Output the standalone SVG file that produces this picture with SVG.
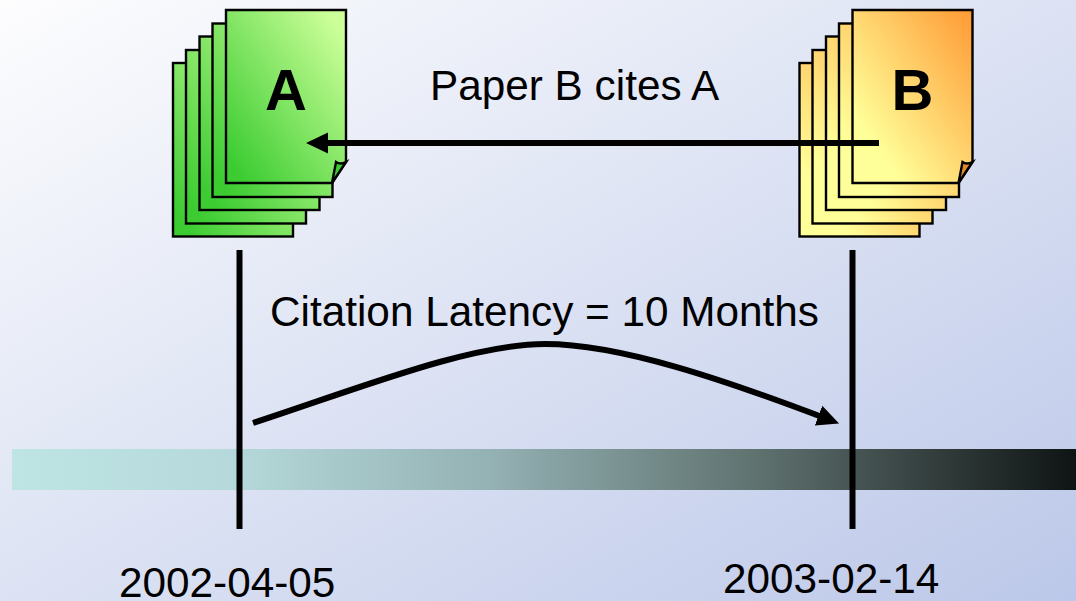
<svg xmlns="http://www.w3.org/2000/svg" width="1076" height="601" viewBox="0 0 1076 601">
<defs>
<linearGradient id="bg" x1="0" y1="0" x2="1" y2="1"><stop offset="0" stop-color="#fdfdfe"/><stop offset="1" stop-color="#bcc8e9"/></linearGradient>
<linearGradient id="bar" x1="0" y1="0" x2="1" y2="0"><stop offset="0" stop-color="#bfe4e4"/><stop offset="0.2" stop-color="#b6dadb"/><stop offset="0.45" stop-color="#94b1b3"/><stop offset="0.7" stop-color="#5f7270"/><stop offset="1" stop-color="#0f1414"/></linearGradient>
<linearGradient id="ga" x1="0" y1="1" x2="1" y2="0"><stop offset="0.08" stop-color="#3ccc32"/><stop offset="0.92" stop-color="#ccff99"/></linearGradient>
<linearGradient id="gb" x1="0" y1="1" x2="1" y2="0"><stop offset="0.2" stop-color="#ffff99"/><stop offset="1" stop-color="#ff9933"/></linearGradient>
<marker id="head" markerUnits="userSpaceOnUse" markerWidth="24" markerHeight="24" refX="8" refY="12" orient="auto"><path d="M0 1.500 L22 12 L0 22.500 Z" fill="#000"/></marker>
</defs>
<style>
.t{font-family:"Liberation Sans",Arial,sans-serif;font-size:42.3px;fill:#000}
.h{font-family:"Liberation Sans",Arial,sans-serif;font-size:58px;font-weight:bold;fill:#000;text-anchor:middle}
.p{stroke:#000;stroke-width:2.4;stroke-linejoin:miter}
.c{fill:none;stroke:#000;stroke-width:6}
</style>
<rect width="1076" height="601" fill="url(#bg)"/>
<rect id="timeline" x="12" y="449" width="1064" height="41" fill="url(#bar)"/>
<g id="stack-a">
<rect class="p" x="173" y="63" width="120" height="173.500" fill="url(#ga)"/>
<rect class="p" x="186" y="50" width="120" height="173.500" fill="url(#ga)"/>
<rect class="p" x="199.500" y="36.500" width="120" height="173.500" fill="url(#ga)"/>
<rect class="p" x="212.500" y="23.500" width="120" height="173.500" fill="url(#ga)"/>
<path class="p" d="M226 10 H346 V162 L332 183 H226 Z" fill="url(#ga)"/>
<path class="p" d="M332 183 L336 162 Q340 165 346 162 Z" fill="#3ccc32"/>
<text class="h" x="286" y="109.500">A</text>
</g>
<g id="stack-b">
<rect class="p" x="799.500" y="63" width="120" height="173.500" fill="url(#gb)"/>
<rect class="p" x="812.500" y="50" width="120" height="173.500" fill="url(#gb)"/>
<rect class="p" x="826" y="36.500" width="120" height="173.500" fill="url(#gb)"/>
<rect class="p" x="839" y="23.500" width="120" height="173.500" fill="url(#gb)"/>
<path class="p" d="M852.500 10 H972.500 V162 L958.500 183 H852.500 Z" fill="url(#gb)"/>
<path class="p" d="M958.500 183 L962.500 162 Q966.500 165 972.500 162 Z" fill="#e08a2c"/>
<text class="h" x="912.500" y="109.500">B</text>
</g>
<g id="connectors">
<path class="c" d="M879 143 H320" marker-end="url(#head)"/>
<path class="c" d="M239.500 250 V529"/>
<path class="c" d="M852.500 250 V529"/>
<path class="c" d="M253 423 C360 388 470 344 545 344 C620 344 725 380 826 418.500" marker-end="url(#head)"/>
</g>
<text class="t" x="430" y="100">Paper B cites A</text>
<text class="t" x="270" y="326">Citation Latency = 10 Months</text>
<text class="t" x="119" y="596.500">2002-04-05</text>
<text class="t" x="723" y="592.500">2003-02-14</text>
</svg>
